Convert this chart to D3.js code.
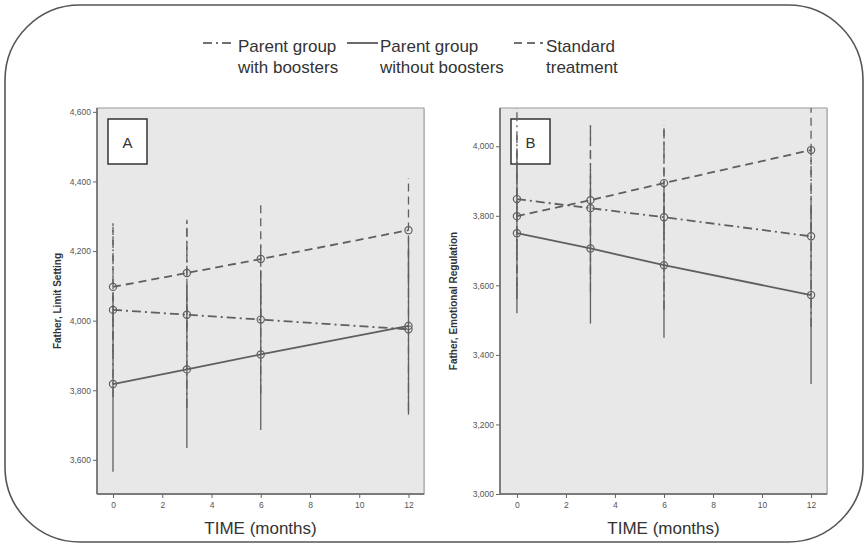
<!DOCTYPE html>
<html>
<head>
<meta charset="utf-8">
<script src="https://cdn.jsdelivr.net/npm/d3@7"></script>
<style>
  body { margin: 0; background: #fff; }
  svg { display: block; font-family: "Liberation Sans", Arial, sans-serif; }
  .tick text { fill: #555; font-size: 8.5px; }
  .tick line { stroke: #666; }
  .domain { stroke: #666; stroke-width: 1.5; }
</style>
</head>
<body>
<svg width="865" height="545"></svg>
<script>
// time points (months)
var months = [0, 3, 6, 12];
var seriesNames = ["Parent group with boosters", "Parent group without boosters", "Standard treatment"];
var xTicks = [0, 2, 4, 6, 8, 10, 12];

// panel A - Father, Limit Setting
var boostersA = [4.031, 4.017, 4.003, 3.975];
var boostersALo = [3.78, 3.75, 3.79, 3.74];
var boostersAHi = [4.28, 4.29, 4.22, 4.21];
var noBoostersA = [3.818, 3.860, 3.903, 3.985];
var noBoostersALo = [3.566, 3.634, 3.686, 3.730];
var noBoostersAHi = [4.07, 4.09, 4.12, 4.24];
var standardA = [4.097, 4.137, 4.177, 4.260];
var standardALo = [3.91, 3.98, 4.01, 4.11];
var standardAHi = [4.28, 4.29, 4.34, 4.41];
var yTicksA = [3.6, 3.8, 4.0, 4.2, 4.4, 4.6];

// panel B - Father, Emotional Regulation
var boostersB = [3.848, 3.822, 3.796, 3.741];
var boostersBLo = [3.58, 3.58, 3.53, 3.48];
var boostersBHi = [4.13, 4.06, 4.06, 4.00];
var noBoostersB = [3.750, 3.706, 3.658, 3.572];
var noBoostersBLo = [3.52, 3.49, 3.449, 3.316];
var noBoostersBHi = [3.98, 3.92, 3.867, 3.83];
var standardB = [3.799, 3.845, 3.894, 3.989];
var standardBLo = [3.56, 3.63, 3.73, 3.76];
var standardBHi = [4.04, 4.06, 4.06, 4.22];
var yTicksB = [3.0, 3.2, 3.4, 3.6, 3.8, 4.0];

var DASH = { boosters: "9,4,2,4", noBoosters: null, standard: "8,5" };
var LINE_COLOR = "#5f5f5f";

var svg = d3.select("svg");
var fmt = function (d) { return d.toFixed(3).replace(".", ","); };

// outer rounded frame
svg.append("rect")
  .attr("x", 5).attr("y", 5)
  .attr("width", 858).attr("height", 537)
  .attr("rx", 75).attr("ry", 75)
  .attr("fill", "none")
  .attr("stroke", "#555")
  .attr("stroke-width", 1.6);

function drawPanel (opt) {
  var x = d3.scaleLinear().domain(opt.xDomain).range([opt.left, opt.right]);
  var y = d3.scaleLinear().domain(opt.yDomain).range([opt.bottom, opt.top]);
  var g = svg.append("g");

  // plot background
  g.append("rect")
    .attr("x", opt.left + 1).attr("y", opt.top + 1)
    .attr("width", opt.right - opt.left).attr("height", opt.bottom - opt.top)
    .attr("fill", "#d4d4d4");
  g.append("rect")
    .attr("x", opt.left).attr("y", opt.top)
    .attr("width", opt.right - opt.left).attr("height", opt.bottom - opt.top)
    .attr("fill", "#e8e8e8")
    .attr("stroke", "#9a9a9a")
    .attr("stroke-width", 1);

  var clipId = "clip" + opt.id;
  svg.append("clipPath").attr("id", clipId)
    .append("rect")
    .attr("x", opt.left).attr("y", opt.top)
    .attr("width", opt.right - opt.left).attr("height", opt.bottom - opt.top);

  // axes
  g.append("g")
    .attr("transform", "translate(0," + opt.bottom + ")")
    .call(d3.axisBottom(x).tickValues(xTicks).tickSize(4).tickSizeOuter(0).tickPadding(4))
    .call(function (a) { a.select(".domain").attr("d", "M" + opt.left + ",0H" + opt.right); });
  g.append("g")
    .attr("transform", "translate(" + opt.left + ",0)")
    .call(d3.axisLeft(y).tickValues(opt.yTicks).tickFormat(fmt).tickSize(4).tickSizeOuter(0).tickPadding(2))
    .call(function (a) { a.select(".domain").attr("d", "M0," + opt.top + "V" + opt.bottom); });

  // letter box
  g.append("rect")
    .attr("x", opt.left + 11).attr("y", opt.top + 11)
    .attr("width", 39).attr("height", 45)
    .attr("fill", "#fff")
    .attr("stroke", "#333")
    .attr("stroke-width", 1.5);
  g.append("text")
    .text(opt.letter)
    .attr("x", opt.left + 30.5).attr("y", opt.top + 40)
    .attr("text-anchor", "middle")
    .attr("font-size", 15)
    .attr("fill", "#333");

  // y title
  g.append("text")
    .text(opt.yTitle)
    .attr("transform", "translate(" + opt.yTitleX + "," + ((opt.top + opt.bottom) / 2) + ") rotate(-90)")
    .attr("text-anchor", "middle")
    .attr("font-size", 10)
    .attr("font-weight", "bold")
    .attr("fill", "#333");

  // x title
  g.append("text")
    .text("TIME (months)")
    .attr("x", (opt.left + opt.right) / 2).attr("y", 534)
    .attr("text-anchor", "middle")
    .attr("font-size", 17)
    .attr("fill", "#333");

  var plot = g.append("g").attr("clip-path", "url(#" + clipId + ")");
  var line = d3.line().x(function (d) { return x(d[0]); }).y(function (d) { return y(d[1]); });

  opt.series.forEach(function (s) {
    // error bars
    months.forEach(function (m, i) {
      plot.append("line")
        .attr("x1", x(m)).attr("x2", x(m))
        .attr("y1", y(s.lo[i])).attr("y2", y(s.hi[i]))
        .attr("stroke", LINE_COLOR)
        .attr("stroke-width", 1.3)
        .attr("stroke-dasharray", s.dash);
    });
  });
  opt.series.forEach(function (s) {
    plot.append("path")
      .attr("d", line(months.map(function (m, i) { return [m, s.mean[i]]; })))
      .attr("fill", "none")
      .attr("stroke", LINE_COLOR)
      .attr("stroke-width", 1.8)
      .attr("stroke-dasharray", s.dash);
    plot.selectAll(null)
      .data(months)
      .enter().append("circle")
      .attr("cx", function (m) { return x(m); })
      .attr("cy", function (m, i) { return y(s.mean[i]); })
      .attr("r", 3.6)
      .attr("fill", "none")
      .attr("stroke", LINE_COLOR)
      .attr("stroke-width", 1.2);
  });
}

drawPanel({
  id: "A", letter: "A", yTitle: "Father, Limit Setting", yTitleX: 61,
  left: 97, right: 424, top: 108, bottom: 494,
  xDomain: [-0.65, 12.63], yDomain: [3.502, 4.611], yTicks: yTicksA,
  series: [
    { mean: boostersA, lo: boostersALo, hi: boostersAHi, dash: DASH.boosters },
    { mean: noBoostersA, lo: noBoostersALo, hi: noBoostersAHi, dash: DASH.noBoosters },
    { mean: standardA, lo: standardALo, hi: standardAHi, dash: DASH.standard }
  ]
});

drawPanel({
  id: "B", letter: "B", yTitle: "Father, Emotional Regulation", yTitleX: 457,
  left: 500, right: 827, top: 108, bottom: 494,
  xDomain: [-0.69, 12.65], yDomain: [3.0, 4.11], yTicks: yTicksB,
  series: [
    { mean: boostersB, lo: boostersBLo, hi: boostersBHi, dash: DASH.boosters },
    { mean: noBoostersB, lo: noBoostersBLo, hi: noBoostersBHi, dash: DASH.noBoosters },
    { mean: standardB, lo: standardBLo, hi: standardBHi, dash: DASH.standard }
  ]
});

// legend
var legend = [
  { x1: 203, x2: 235, tx: 238, dash: DASH.boosters, lines: ["Parent group", "with boosters"] },
  { x1: 347, x2: 378, tx: 380, dash: DASH.noBoosters, lines: ["Parent group", "without boosters"] },
  { x1: 514, x2: 543, tx: 546, dash: DASH.standard, lines: ["Standard", "treatment"] }
];
legend.forEach(function (l, k) {
  svg.append("line")
    .attr("x1", l.x1).attr("x2", l.x2)
    .attr("y1", 43).attr("y2", 43)
    .attr("stroke", "#444")
    .attr("stroke-width", 1.6)
    .attr("stroke-dasharray", l.dash);
  var t = svg.append("text")
    .attr("x", l.tx).attr("y", 52)
    .attr("font-size", 17)
    .attr("fill", "#333");
  t.append("tspan").attr("x", l.tx).attr("dy", 0).text(l.lines[0]);
  t.append("tspan").attr("x", l.tx).attr("dy", 21).text(l.lines[1]);
});
</script>
</body>
</html>
